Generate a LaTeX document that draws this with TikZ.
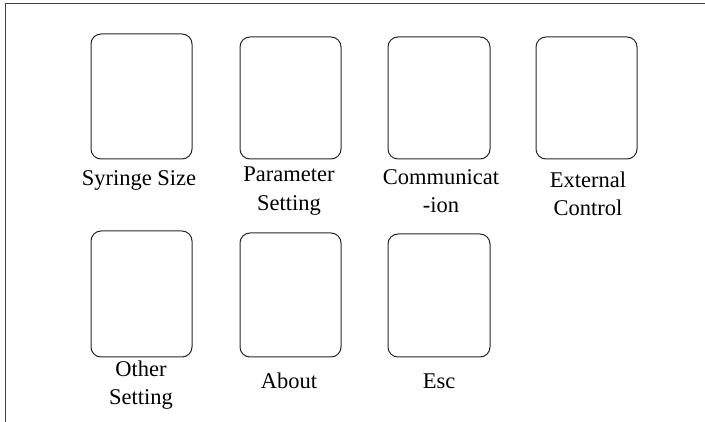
\documentclass[tikz,border=0pt]{standalone}
\usepackage{fontspec}
\setmainfont{Liberation Serif}
\begin{document}
\begin{tikzpicture}[x=1pt,y=-1pt,
  btn/.style={draw=black!85,line width=1pt,rounded corners=10pt},
  lbl/.style={align=center,font=\rmfamily\fontsize{22.5}{28.5}\selectfont,inner sep=0pt},
  frame/.style={draw=black!75,line width=1pt}]
\useasboundingbox (0,0) rectangle (705,422);
\coordinate (tl) at (5,4);
\coordinate (tr) at (705,4);
\coordinate (bl) at (5,422);
\draw[frame] (tr) -- (tl) -- (bl);
\draw[btn] (91,34) rectangle (192,159);
\draw[btn] (240,37) rectangle (341,159);
\draw[btn] (388,37) rectangle (490,159);
\draw[btn] (536,37) rectangle (637,159);
\draw[btn] (91,231) rectangle (192,357);
\draw[btn] (240,233) rectangle (341,357);
\draw[btn] (388,234) rectangle (490,357);
\node[lbl] (l1) at (139,180) {Syringe Size};
\node[lbl] (l2) at (289,191) {Parameter\\Setting};
\node[lbl] (l3) at (441,191) {Communicat\\-ion};
\node[lbl] (l4) at (588,194) {External\\Control};
\node[lbl] (l5) at (141,385) {Other\\Setting};
\node[lbl] (l6) at (289,381) {About};
\node[lbl] (l7) at (439,381) {Esc};
\end{tikzpicture}
\end{document}
